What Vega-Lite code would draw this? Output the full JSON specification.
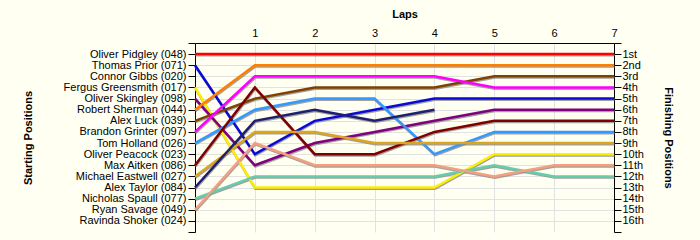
{
  "$schema": "https://vega.github.io/schema/vega-lite/v6.json",
  "autosize": "none",
  "width": 419,
  "height": 189,
  "padding": {"left": 195, "top": 43, "right": 86, "bottom": 8},
  "background": "#FFFFF2",
  "config": {
    "view": {"stroke": null},
    "font": "Liberation Sans",
    "axis": {"labelFont": "Liberation Sans", "titleFont": "Liberation Sans", "labelFontSize": 11, "titleFontSize": 11, "titleFontWeight": "bold", "labelColor": "#000", "titleColor": "#000", "domainColor": "#000", "tickColor": "#000", "gridColor": "#E2E2E2"}
  },
  "data": {"values": [
    {"driver": "Oliver Pidgley (048)", "lap": 0, "position": 1},
    {"driver": "Oliver Pidgley (048)", "lap": 1, "position": 1},
    {"driver": "Oliver Pidgley (048)", "lap": 2, "position": 1},
    {"driver": "Oliver Pidgley (048)", "lap": 3, "position": 1},
    {"driver": "Oliver Pidgley (048)", "lap": 4, "position": 1},
    {"driver": "Oliver Pidgley (048)", "lap": 5, "position": 1},
    {"driver": "Oliver Pidgley (048)", "lap": 6, "position": 1},
    {"driver": "Oliver Pidgley (048)", "lap": 7, "position": 1},
    {"driver": "Thomas Prior (071)", "lap": 0, "position": 2},
    {"driver": "Thomas Prior (071)", "lap": 1, "position": 10},
    {"driver": "Thomas Prior (071)", "lap": 2, "position": 7},
    {"driver": "Thomas Prior (071)", "lap": 3, "position": 6},
    {"driver": "Thomas Prior (071)", "lap": 4, "position": 5},
    {"driver": "Thomas Prior (071)", "lap": 5, "position": 5},
    {"driver": "Thomas Prior (071)", "lap": 6, "position": 5},
    {"driver": "Thomas Prior (071)", "lap": 7, "position": 5},
    {"driver": "Fergus Greensmith (017)", "lap": 0, "position": 4},
    {"driver": "Fergus Greensmith (017)", "lap": 1, "position": 13},
    {"driver": "Fergus Greensmith (017)", "lap": 2, "position": 13},
    {"driver": "Fergus Greensmith (017)", "lap": 3, "position": 13},
    {"driver": "Fergus Greensmith (017)", "lap": 4, "position": 13},
    {"driver": "Fergus Greensmith (017)", "lap": 5, "position": 10},
    {"driver": "Fergus Greensmith (017)", "lap": 6, "position": 10},
    {"driver": "Fergus Greensmith (017)", "lap": 7, "position": 10},
    {"driver": "Oliver Skingley (098)", "lap": 0, "position": 5},
    {"driver": "Oliver Skingley (098)", "lap": 1, "position": 11},
    {"driver": "Oliver Skingley (098)", "lap": 2, "position": 9},
    {"driver": "Oliver Skingley (098)", "lap": 3, "position": 8},
    {"driver": "Oliver Skingley (098)", "lap": 4, "position": 7},
    {"driver": "Oliver Skingley (098)", "lap": 5, "position": 6},
    {"driver": "Oliver Skingley (098)", "lap": 6, "position": 6},
    {"driver": "Oliver Skingley (098)", "lap": 7, "position": 6},
    {"driver": "Robert Sherman (044)", "lap": 0, "position": 6},
    {"driver": "Robert Sherman (044)", "lap": 1, "position": 2},
    {"driver": "Robert Sherman (044)", "lap": 2, "position": 2},
    {"driver": "Robert Sherman (044)", "lap": 3, "position": 2},
    {"driver": "Robert Sherman (044)", "lap": 4, "position": 2},
    {"driver": "Robert Sherman (044)", "lap": 5, "position": 2},
    {"driver": "Robert Sherman (044)", "lap": 6, "position": 2},
    {"driver": "Robert Sherman (044)", "lap": 7, "position": 2},
    {"driver": "Alex Luck (039)", "lap": 0, "position": 7},
    {"driver": "Alex Luck (039)", "lap": 1, "position": 5},
    {"driver": "Alex Luck (039)", "lap": 2, "position": 4},
    {"driver": "Alex Luck (039)", "lap": 3, "position": 4},
    {"driver": "Alex Luck (039)", "lap": 4, "position": 4},
    {"driver": "Alex Luck (039)", "lap": 5, "position": 3},
    {"driver": "Alex Luck (039)", "lap": 6, "position": 3},
    {"driver": "Alex Luck (039)", "lap": 7, "position": 3},
    {"driver": "Brandon Grinter (097)", "lap": 0, "position": 8},
    {"driver": "Brandon Grinter (097)", "lap": 1, "position": 3},
    {"driver": "Brandon Grinter (097)", "lap": 2, "position": 3},
    {"driver": "Brandon Grinter (097)", "lap": 3, "position": 3},
    {"driver": "Brandon Grinter (097)", "lap": 4, "position": 3},
    {"driver": "Brandon Grinter (097)", "lap": 5, "position": 4},
    {"driver": "Brandon Grinter (097)", "lap": 6, "position": 4},
    {"driver": "Brandon Grinter (097)", "lap": 7, "position": 4},
    {"driver": "Tom Holland (026)", "lap": 0, "position": 9},
    {"driver": "Tom Holland (026)", "lap": 1, "position": 6},
    {"driver": "Tom Holland (026)", "lap": 2, "position": 5},
    {"driver": "Tom Holland (026)", "lap": 3, "position": 5},
    {"driver": "Tom Holland (026)", "lap": 4, "position": 10},
    {"driver": "Tom Holland (026)", "lap": 5, "position": 8},
    {"driver": "Tom Holland (026)", "lap": 6, "position": 8},
    {"driver": "Tom Holland (026)", "lap": 7, "position": 8},
    {"driver": "Max Aitken (086)", "lap": 0, "position": 11},
    {"driver": "Max Aitken (086)", "lap": 1, "position": 4},
    {"driver": "Max Aitken (086)", "lap": 2, "position": 10},
    {"driver": "Max Aitken (086)", "lap": 3, "position": 10},
    {"driver": "Max Aitken (086)", "lap": 4, "position": 8},
    {"driver": "Max Aitken (086)", "lap": 5, "position": 7},
    {"driver": "Max Aitken (086)", "lap": 6, "position": 7},
    {"driver": "Max Aitken (086)", "lap": 7, "position": 7},
    {"driver": "Michael Eastwell (027)", "lap": 0, "position": 12},
    {"driver": "Michael Eastwell (027)", "lap": 1, "position": 8},
    {"driver": "Michael Eastwell (027)", "lap": 2, "position": 8},
    {"driver": "Michael Eastwell (027)", "lap": 3, "position": 9},
    {"driver": "Michael Eastwell (027)", "lap": 4, "position": 9},
    {"driver": "Michael Eastwell (027)", "lap": 5, "position": 9},
    {"driver": "Michael Eastwell (027)", "lap": 6, "position": 9},
    {"driver": "Michael Eastwell (027)", "lap": 7, "position": 9},
    {"driver": "Alex Taylor (084)", "lap": 0, "position": 13},
    {"driver": "Alex Taylor (084)", "lap": 1, "position": 7},
    {"driver": "Alex Taylor (084)", "lap": 2, "position": 6},
    {"driver": "Alex Taylor (084)", "lap": 3, "position": 7},
    {"driver": "Alex Taylor (084)", "lap": 4, "position": 6},
    {"driver": "Nicholas Spaull (077)", "lap": 0, "position": 14},
    {"driver": "Nicholas Spaull (077)", "lap": 1, "position": 12},
    {"driver": "Nicholas Spaull (077)", "lap": 2, "position": 12},
    {"driver": "Nicholas Spaull (077)", "lap": 3, "position": 12},
    {"driver": "Nicholas Spaull (077)", "lap": 4, "position": 12},
    {"driver": "Nicholas Spaull (077)", "lap": 5, "position": 11},
    {"driver": "Nicholas Spaull (077)", "lap": 6, "position": 12},
    {"driver": "Nicholas Spaull (077)", "lap": 7, "position": 12},
    {"driver": "Ryan Savage (049)", "lap": 0, "position": 15},
    {"driver": "Ryan Savage (049)", "lap": 1, "position": 9},
    {"driver": "Ryan Savage (049)", "lap": 2, "position": 11},
    {"driver": "Ryan Savage (049)", "lap": 3, "position": 11},
    {"driver": "Ryan Savage (049)", "lap": 4, "position": 11},
    {"driver": "Ryan Savage (049)", "lap": 5, "position": 12},
    {"driver": "Ryan Savage (049)", "lap": 6, "position": 11},
    {"driver": "Ryan Savage (049)", "lap": 7, "position": 11}
  ]},
  "layer": [
    {
      "mark": {"type": "line", "color": "#8A8A8A", "strokeWidth": 2.5, "opacity": 0.8, "yOffset": 1.2, "xOffset": 0.5},
      "encoding": {
        "x": {"field": "lap", "type": "quantitative", "scale": {"domain": [0, 7], "nice": false, "zero": false},
          "axis": {"orient": "top", "title": "Laps", "values": [0, 1, 2, 3, 4, 5, 6, 7], "labelExpr": "datum.value == 0 ? '' : datum.value", "ticks": false, "labelPadding": 5, "titleY": -24, "grid": true, "labelFlush": false}},
        "y": {"field": "position", "type": "quantitative", "scale": {"domain": [0, 17], "reverse": true, "nice": false, "zero": false},
          "axis": {"orient": "left", "title": "Starting Positions", "values": [0, 1, 2, 3, 4, 5, 6, 7, 8, 9, 10, 11, 12, 13, 14, 15, 16, 17], "tickSize": 7, "labelPadding": 2, "titleX": -162, "grid": true,
            "gridOpacity": {"condition": {"test": "datum.value >= 17", "value": 0}, "value": 1},
            "labelExpr": "['', 'Oliver Pidgley (048)', 'Thomas Prior (071)', 'Connor Gibbs (020)', 'Fergus Greensmith (017)', 'Oliver Skingley (098)', 'Robert Sherman (044)', 'Alex Luck (039)', 'Brandon Grinter (097)', 'Tom Holland (026)', 'Oliver Peacock (023)', 'Max Aitken (086)', 'Michael Eastwell (027)', 'Alex Taylor (084)', 'Nicholas Spaull (077)', 'Ryan Savage (049)', 'Ravinda Shoker (024)', ''][datum.value]", "labelFlush": false}},
        "detail": {"field": "driver"}
      }
    },
    {
      "mark": {"type": "line", "strokeWidth": 2.5},
      "encoding": {
        "x": {"field": "lap", "type": "quantitative"},
        "y": {"field": "position", "type": "quantitative",
          "axis": {"orient": "right", "title": "Finishing Positions", "values": [0, 1, 2, 3, 4, 5, 6, 7, 8, 9, 10, 11, 12, 13, 14, 15, 16, 17], "tickSize": 7, "labelPadding": 1, "titleX": 48, "grid": false, "labelFlush": false,
            "labelExpr": "(datum.value < 1 || datum.value > 16) ? '' : datum.value + (datum.value == 1 ? 'st' : datum.value == 2 ? 'nd' : datum.value == 3 ? 'rd' : 'th')"}},
        "color": {"field": "driver", "type": "nominal", "legend": null,
          "scale": {"domain": ["Oliver Pidgley (048)", "Thomas Prior (071)", "Fergus Greensmith (017)", "Oliver Skingley (098)", "Robert Sherman (044)", "Alex Luck (039)", "Brandon Grinter (097)", "Tom Holland (026)", "Max Aitken (086)", "Michael Eastwell (027)", "Alex Taylor (084)", "Nicholas Spaull (077)", "Ryan Savage (049)"],
            "range": ["#FF0000", "#0A0AD8", "#FFEE00", "#800080", "#FF8000", "#804000", "#FF00FF", "#3399FF", "#800000", "#DAA520", "#1F1F70", "#66CDAA", "#F4A080"]}}
      }
    }
  ],
  "resolve": {"axis": {"y": "independent"}}
}
